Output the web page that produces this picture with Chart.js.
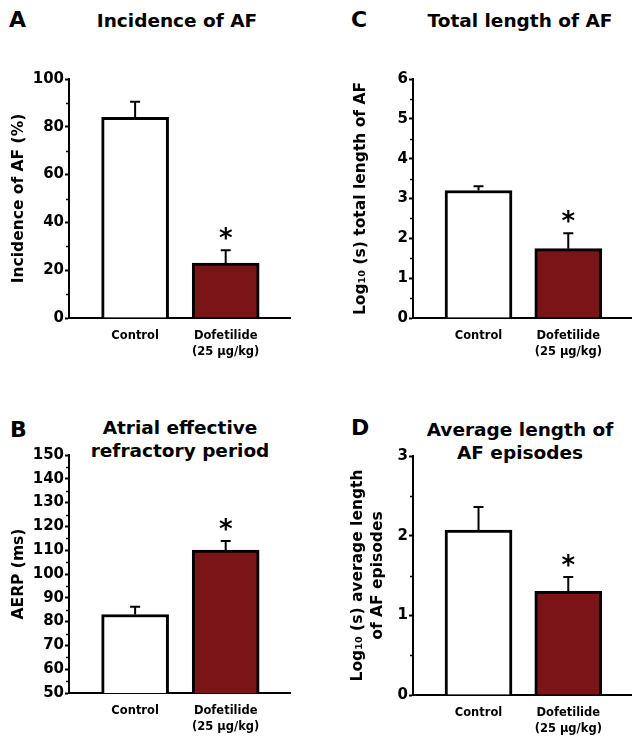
<!DOCTYPE html>
<html>
<head>
<meta charset="utf-8">
<script src="https://cdn.jsdelivr.net/npm/chart.js@4.4.1/dist/chart.umd.min.js"></script>
<style>
  body { margin: 0; background: #fff; width: 632px; height: 737px; position: relative; overflow: hidden;
         font-family: "DejaVu Sans", sans-serif; font-weight: bold; color: #000; }
  canvas { position: absolute; }
  .ttl { position: absolute; text-align: center; font-size: 18.5px; line-height: 23px; white-space: nowrap; }
  .lt { position: absolute; font-size: 22px; line-height: 26px; }
</style>
</head>
<body>
<div class="lt" style="left:9px;top:7px">A</div>
<div class="ttl" style="left:77px;top:9px;width:200px">Incidence of AF</div>
<div class="lt" style="left:351px;top:7px">C</div>
<div class="ttl" style="left:420px;top:9px;width:200px">Total length of AF</div>
<div class="lt" style="left:10px;top:417px">B</div>
<div class="ttl" style="left:80px;top:416px;width:200px">Atrial effective<br>refractory period</div>
<div class="lt" style="left:351px;top:415px">D</div>
<div class="ttl" style="left:420px;top:418px;width:200px">Average length of<br>AF episodes</div>

<canvas id="chartA" width="300" height="310" style="left:0;top:60px"></canvas>
<canvas id="chartB" width="300" height="297" style="left:0;top:440px"></canvas>
<canvas id="chartC" width="316" height="310" style="left:316px;top:60px"></canvas>
<canvas id="chartD" width="316" height="297" style="left:316px;top:440px"></canvas>

<script>
// groups and values (mean, SEM upward only)
const groups = ['Control', 'Dofetilide'];
const doseLabel = '(25 \u03bcg/kg)';
const significant = [false, true];

const incidence = [84, 23];
const incidenceErr = [6.5, 5.3];

const aerp = [83, 110];
const aerpErr = [3.2, 3.9];

const totalLength = [3.2, 1.74];
const totalLengthErr = [0.11, 0.39];

const avgLength = [2.07, 1.3];
const avgLengthErr = [0.29, 0.18];

const FONT = '"DejaVu Sans", sans-serif';
const barFill = ['#ffffff', '#7b1417'];

Chart.defaults.font.family = FONT;
Chart.defaults.font.weight = 'bold';
Chart.defaults.color = '#000';

// upward error bars + significance star, positioned through the y scale
const errorBars = {
  id: 'errorBars',
  afterDatasetsDraw(chart) {
    const { ctx } = chart;
    const y = chart.scales.y;
    const ds = chart.data.datasets[0];
    const meta = chart.getDatasetMeta(0);
    ctx.save();
    ctx.strokeStyle = '#000';
    ctx.lineWidth = 2;
    meta.data.forEach((bar, i) => {
      const v = ds.data[i].y;
      const top = y.getPixelForValue(v + ds.errors[i]);
      const base = y.getPixelForValue(v);
      ctx.beginPath();
      ctx.moveTo(bar.x, base);
      ctx.lineTo(bar.x, top);
      ctx.moveTo(bar.x - 5, top);
      ctx.lineTo(bar.x + 5, top);
      ctx.stroke();
      if (ds.stars[i]) {
        ctx.fillStyle = '#000';
        ctx.font = 'bold 26px ' + FONT;
        ctx.textAlign = 'center';
        ctx.textBaseline = 'alphabetic';
        ctx.fillText('*', bar.x, top - 3);
      }
    });
    ctx.restore();
  }
};

// short minor ticks halfway between the labelled ones
const minorTicks = {
  id: 'minorTicks',
  afterDraw(chart) {
    const { ctx } = chart;
    const y = chart.scales.y;
    const step = y.options.ticks.stepSize;
    const x0 = chart.chartArea.left;
    ctx.save();
    ctx.strokeStyle = '#000';
    ctx.lineWidth = 1.5;
    for (let v = y.min + step / 2; v < y.max; v += step) {
      const py = Math.round(y.getPixelForValue(v)) + 0.5;
      ctx.beginPath();
      ctx.moveTo(x0 - 3, py);
      ctx.lineTo(x0, py);
      ctx.stroke();
    }
    ctx.restore();
  }
};

function panel(id, values, errors, yMin, yMax, step, yTitle, box) {
  return new Chart(document.getElementById(id), {
    type: 'bar',
    data: {
      datasets: [{
        data: values.map((v, i) => ({ x: i, y: v })),
        errors: errors,
        stars: significant,
        backgroundColor: barFill,
        borderColor: '#000',
        borderWidth: 3,
        borderSkipped: 'bottom',
        barThickness: 67
      }]
    },
    options: {
      responsive: false,
      animation: false,
      devicePixelRatio: 1,
      events: [],
      layout: { padding: { top: box.padTop, right: box.padRight, left: 0, bottom: 0 } },
      plugins: { legend: { display: false }, tooltip: { enabled: false } },
      scales: {
        x: {
          type: 'linear',
          offset: false,
          min: -0.73,
          max: 1.71,
          afterBuildTicks: s => { s.ticks = groups.map((g, i) => ({ value: i })); },
          afterFit: s => { s.height = box.xHeight; },
          grid: { display: true, drawOnChartArea: false, drawTicks: false, offset: false },
          border: { color: '#000', width: 2 },
          ticks: {
            padding: 10,
            maxRotation: 0,
            autoSkip: false,
            font: { size: 11.5, weight: 'bold', lineHeight: 1.4 },
            callback: v => (v === 0 ? groups[0] : [groups[1], doseLabel])
          }
        },
        y: {
          min: yMin,
          max: yMax,
          afterFit: s => { s.width = box.yWidth; },
          grid: { display: true, drawOnChartArea: false, drawTicks: true, tickLength: 4, tickWidth: 2, tickColor: '#000' },
          border: { color: '#000', width: 2 },
          ticks: { stepSize: step, padding: 1, font: { size: 15, weight: 'bold' } },
          title: {
            display: true,
            text: yTitle,
            font: { size: 15.5, weight: 'bold', lineHeight: box.titleLH || 1.2 },
            padding: { top: box.titlePad, bottom: 0 }
          }
        }
      }
    },
    plugins: [errorBars, minorTicks]
  });
}

panel('chartA', incidence, incidenceErr, 0, 100, 20, 'Incidence of AF (%)',
  { yWidth: 69, xHeight: 52, padTop: 19, padRight: 10, titlePad: 9.7 });
panel('chartB', aerp, aerpErr, 50, 150, 10, 'AERP (ms)',
  { yWidth: 69, xHeight: 44, padTop: 15, padRight: 10, titlePad: 9.7 });
panel('chartC', totalLength, totalLengthErr, 0, 6, 1, 'Log\u2081\u2080 (s) total length of AF',
  { yWidth: 97, xHeight: 52, padTop: 19, padRight: 0, titlePad: 35.7 });
panel('chartD', avgLength, avgLengthErr, 0, 3, 1, ['Log\u2081\u2080 (s) average length', 'of AF episodes'],
  { yWidth: 97, xHeight: 42, padTop: 16, padRight: 0, titlePad: 32, titleLH: 1.29 });
</script>
</body>
</html>
